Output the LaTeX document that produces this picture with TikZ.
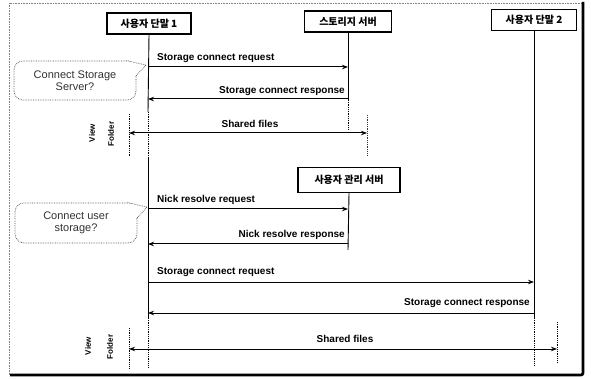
\documentclass[tikz,border=0pt]{standalone}
\usepackage{fontspec}
\setmainfont{Liberation Sans}
\newfontfamily\kr{Noto Sans CJK KR}
\usetikzlibrary{arrows.meta,shapes.misc}
\begin{document}
\begin{tikzpicture}[x=1pt,y=-1pt,
  actor/.style={draw,line width=1.3pt,fill=white,minimum height=21pt,inner sep=2pt,font=\kr\bfseries\fontsize{10}{11}\selectfont},
  life/.style={line width=0.9pt},
  lifedot/.style={line width=0.8pt,densely dotted},
  msg/.style={line width=1pt,-{Stealth[length=6pt,width=4.5pt]}},
  both/.style={line width=1pt,{Stealth[length=6pt,width=4.5pt]}-{Stealth[length=6pt,width=4.5pt]}},
  lbl/.style={font=\bfseries\fontsize{10}{11}\selectfont,inner sep=1pt},
  side/.style={font=\bfseries\fontsize{8}{9}\selectfont,rotate=90,inner sep=0pt},
  bubble/.style={draw=black!70,densely dotted,line width=0.7pt,rounded corners=9pt,fill=white,align=center,
    font=\fontsize{11}{12.5}\selectfont,text=black!80,inner sep=2pt},
  tail/.style={draw=black!70,densely dotted,line width=0.7pt,fill=white}
]
\useasboundingbox (0,0) rectangle (591,379);
% frame
\draw[black!50,densely dotted,line width=0.6pt] (9,375) -- (9,3) -- (583,3);
\draw[line width=2.6pt,rounded corners=2pt] (583,2) -- (583,375) -- (10,375);

% actors
\node[actor,minimum width=84pt] (u1) at (149,23.5) {사용자 단말 1};
\node[actor,minimum width=87pt] (st) at (348,21.5) {스토리지 서버};
\node[actor,minimum width=85pt] (u2) at (534,20) {사용자 단말 2};
\node[actor,minimum width=102pt,minimum height=25pt] (um) at (349,180) {사용자 관리 서버};

% lifeline coordinates
\coordinate (l1a) at (148,112);
\coordinate (l1b) at (148,158);
\coordinate (l1d) at (148,318);
\coordinate (l1e) at (148,368);
\coordinate (sta) at (348,100);
\coordinate (stb) at (348,130);
\coordinate (uma) at (348,250);
\coordinate (u2a) at (534,318);
\coordinate (u2b) at (534,366);
\coordinate (f1a) at (129,114);
\coordinate (f1b) at (129,157);
\coordinate (r1a) at (367,115);
\coordinate (r1b) at (367,155);
\coordinate (f2a) at (129,328);
\coordinate (f2b) at (129,368);
\coordinate (r2a) at (557,322);
\coordinate (r2b) at (557,362);

% lifelines
\draw[life] (u1.south) -- (l1a);
\draw[lifedot] (l1a) -- (l1b);
\draw[life] (l1b) -- (l1d);
\draw[lifedot] (l1d) -- (l1e);
\draw[life] (st.south) -- (sta);
\draw[lifedot] (sta) -- (stb);
\draw[life] (um.south) -- (uma);
\draw[life] (u2.south) -- (u2a);
\draw[lifedot] (u2a) -- (u2b);
\draw[lifedot] (f1a) -- (f1b);
\draw[lifedot,black!80] (r1a) -- (r1b);
\draw[lifedot] (f2a) -- (f2b);
\draw[lifedot] (r2a) -- (r2b);

% message end points
\coordinate (m1s) at (148,67);  \coordinate (m1e) at (348,67);
\coordinate (m2s) at (348,99);  \coordinate (m2e) at (148,99);
\coordinate (m3s) at (129,133); \coordinate (m3e) at (367,133);
\coordinate (m4s) at (148,209); \coordinate (m4e) at (348,209);
\coordinate (m5s) at (348,244); \coordinate (m5e) at (148,244);
\coordinate (m6s) at (148,282); \coordinate (m6e) at (534,282);
\coordinate (m7s) at (534,313); \coordinate (m7e) at (148,313);
\coordinate (m8s) at (129,349); \coordinate (m8e) at (557,349);

\draw[msg] (m1s) -- (m1e);
\draw[msg] (m2s) -- (m2e);
\draw[both] (m3s) -- (m3e);
\draw[msg] (m4s) -- (m4e);
\draw[msg] (m5s) -- (m5e);
\draw[msg] (m6s) -- (m6e);
\draw[msg] (m7s) -- (m7e);
\draw[both] (m8s) -- (m8e);

% labels
\node[lbl,anchor=south west] (t1) at (156,64) {Storage connect request};
\node[lbl,anchor=south east] (t2) at (346,97) {Storage connect response};
\node[lbl,anchor=south] (t3) at (250,129) {Shared files};
\node[lbl,anchor=south west] (t4) at (156,206) {Nick resolve request};
\node[lbl,anchor=south east] (t5) at (346,241) {Nick resolve response};
\node[lbl,anchor=south west] (t6) at (156,278) {Storage connect request};
\node[lbl,anchor=south east] (t7) at (531,309) {Storage connect response};
\node[lbl,anchor=south] (t8) at (345,344) {Shared files};

% side labels
\node[side] (v1) at (92,133) {View};
\node[side] (fo1) at (111,134) {Folder};
\node[side] (v2) at (88,346) {View};
\node[side] (fo2) at (110,347) {Folder};

% callouts
\node[bubble,minimum width=122pt,minimum height=39pt] (c1) at (75,80.5) {Connect Storage\\Server?};
\coordinate (tip1) at (146,65);
\draw[tail] ([xshift=-10pt]c1.north east) -- (tip1) -- ([xshift=-1pt,yshift=4pt]c1.east);
\node[bubble,minimum width=122pt,minimum height=40pt] (c2) at (76,223) {Connect user\\storage?};
\coordinate (tip2) at (147,207);
\draw[tail] ([xshift=-10pt]c2.north east) -- (tip2) -- ([xshift=-1pt,yshift=4pt]c2.east);
\end{tikzpicture}
\end{document}
